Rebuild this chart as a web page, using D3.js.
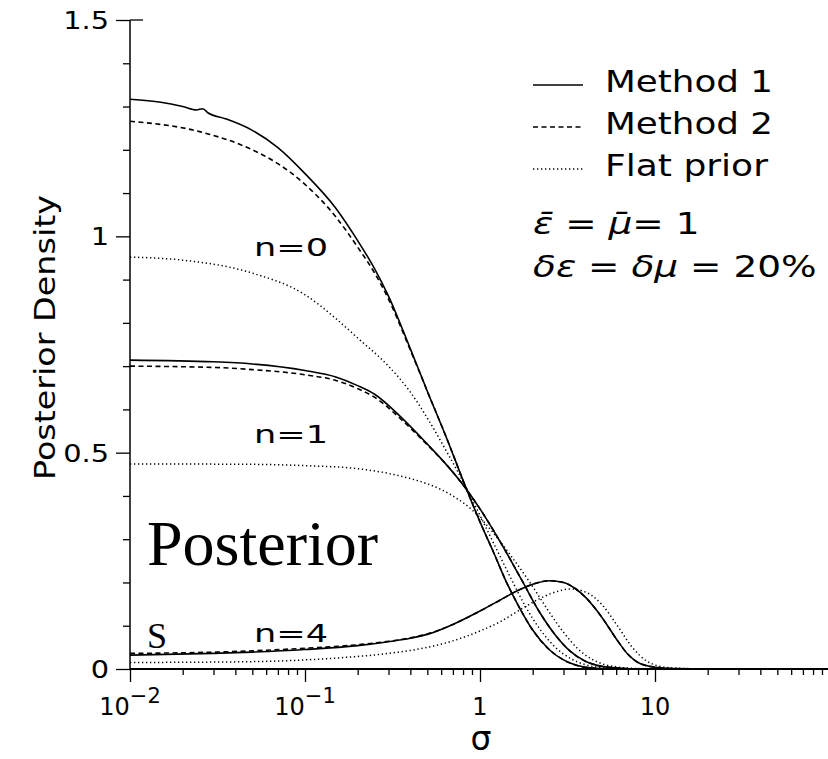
<!DOCTYPE html>
<html>
<head>
<meta charset="utf-8">
<script src="https://cdn.jsdelivr.net/npm/d3@7"></script>
<style>
  body { margin: 0; background: #fff; }
  svg { display: block; }
</style>
</head>
<body>
<div id="chart"></div>
<script>
// values: [sigma, density]
var n0_method1 = [[0.01,1.317],[0.015,1.31],[0.02,1.30],[0.024,1.292],[0.026,1.295],[0.028,1.285],[0.035,1.272],[0.05,1.245],[0.07,1.205],[0.1,1.145],[0.15,1.065],[0.2,0.99],[0.25,0.925],[0.3,0.862],[0.4,0.74],[0.5,0.642],[0.65,0.53],[0.82,0.425],[1.0,0.34],[1.2,0.268],[1.4,0.205],[1.7,0.138],[2.0,0.09],[2.5,0.044],[3.0,0.021],[3.6,0.008],[4.4,0.002],[6,0],[100,0]];
var n0_method2 = [[0.01,1.266],[0.025,1.242],[0.05,1.20],[0.07,1.168],[0.1,1.12],[0.15,1.045],[0.2,0.975],[0.25,0.915],[0.3,0.855],[0.4,0.737],[0.5,0.642],[0.65,0.53],[0.82,0.425],[1.0,0.34],[1.2,0.268],[1.4,0.205],[1.7,0.138],[2.0,0.09],[2.5,0.044],[3.0,0.021],[3.6,0.008],[4.4,0.002],[6,0],[100,0]];
var n0_flat = [[0.01,0.952],[0.02,0.945],[0.05,0.915],[0.1,0.865],[0.15,0.81],[0.2,0.765],[0.3,0.70],[0.4,0.64],[0.5,0.58],[0.65,0.50],[0.82,0.425],[1.0,0.355],[1.25,0.275],[1.5,0.21],[1.8,0.148],[2.2,0.092],[2.7,0.05],[3.3,0.024],[4.0,0.01],[5.0,0.003],[7,0],[100,0]];

var n1_method1 = [[0.01,0.714],[0.03,0.71],[0.05,0.705],[0.1,0.69],[0.15,0.675],[0.2,0.655],[0.25,0.635],[0.35,0.584],[0.5,0.52],[0.65,0.47],[0.82,0.42],[1.0,0.37],[1.3,0.295],[1.73,0.206],[2.2,0.13],[2.7,0.078],[3.3,0.04],[4.0,0.018],[5.0,0.006],[6.3,0.002],[8,0],[100,0]];
var n1_method2 = [[0.01,0.70],[0.03,0.697],[0.05,0.692],[0.1,0.68],[0.15,0.667],[0.2,0.648],[0.25,0.628],[0.35,0.579],[0.5,0.518],[0.65,0.47],[0.82,0.42],[1.0,0.37],[1.3,0.295],[1.73,0.206],[2.2,0.13],[2.7,0.078],[3.3,0.04],[4.0,0.018],[5.0,0.006],[6.3,0.002],[8,0],[100,0]];
var n1_flat = [[0.01,0.474],[0.05,0.473],[0.1,0.47],[0.2,0.463],[0.3,0.452],[0.4,0.44],[0.5,0.428],[0.7,0.40],[0.9,0.368],[1.2,0.313],[1.5,0.262],[1.93,0.2],[2.5,0.13],[3.0,0.085],[3.6,0.048],[4.3,0.024],[5.0,0.012],[6.0,0.005],[8,0.001],[10,0],[100,0]];

var n4_method1 = [[0.01,0.032],[0.03,0.036],[0.05,0.039],[0.1,0.045],[0.2,0.054],[0.3,0.063],[0.4,0.071],[0.5,0.08],[0.7,0.103],[1.0,0.134],[1.3,0.159],[1.6,0.179],[2.0,0.196],[2.5,0.204],[3.0,0.2],[3.5,0.186],[4.0,0.166],[5.0,0.118],[6.0,0.07],[7.0,0.034],[8,0.015],[10,0.004],[12.5,0.001],[20,0],[100,0]];
var n4_method2 = [[0.01,0.036],[0.03,0.039],[0.05,0.042],[0.1,0.048],[0.2,0.056],[0.3,0.064],[0.4,0.072],[0.5,0.081],[0.7,0.103],[1.0,0.134],[1.3,0.159],[1.6,0.179],[2.0,0.196],[2.5,0.204],[3.0,0.2],[3.5,0.186],[4.0,0.166],[5.0,0.118],[6.0,0.07],[7.0,0.034],[8,0.015],[10,0.004],[12.5,0.001],[20,0],[100,0]];
var n4_flat = [[0.01,0.015],[0.05,0.017],[0.1,0.021],[0.2,0.029],[0.3,0.036],[0.5,0.05],[0.7,0.065],[1.0,0.088],[1.3,0.109],[1.68,0.136],[2.2,0.163],[2.8,0.18],[3.3,0.185],[4.0,0.178],[5.0,0.148],[6.0,0.104],[7.5,0.048],[9,0.018],[12,0.003],[17.7,0.0005],[25,0],[100,0]];

var xMajor = [0.01, 0.1, 1, 10];
var xMajorLabels = [["10","\u22122"],["10","\u22121"],["1",""],["10",""]];
var yMajor = [0, 0.5, 1, 1.5];
var yMajorLabels = ["0", "0.5", "1", "1.5"];
var legendLabels = ["Method 1", "Method 2", "Flat prior"];
var curveLabels = ["n=0", "n=1", "n=4"];

var W = 828, H = 759;
var svg = d3.select("#chart").append("svg")
    .attr("width", W).attr("height", H);

var x = d3.scaleLog().domain([0.01, 100]).range([130, 830]);
var y = d3.scaleLinear().domain([0, 1.5]).range([669, 20]);

var sans = "DejaVu Sans";

// minor ticks
var xMinor = [];
[0.01, 0.1, 1, 10].forEach(function(d) {
  for (var k = 2; k <= 9; k++) xMinor.push(d * k);
});
var yMinor = d3.range(0, 1.51, 0.1).filter(function(v) {
  return Math.abs(v * 2 - Math.round(v * 2)) > 1e-6;
});

var gx = svg.append("g").attr("transform", "translate(0,669)");
gx.call(d3.axisBottom(x).tickValues(xMinor).tickSize(6).tickFormat(""));
gx.append("g").call(d3.axisBottom(x).tickValues(xMajor).tickSize(13).tickFormat(""));
gx.selectAll("path.domain").attr("stroke-width", 0);
gx.selectAll("line").attr("stroke", "#000").attr("stroke-width", 1.3);
gx.append("line").attr("x1", 130).attr("x2", 828).attr("y1", 0).attr("y2", 0)
  .attr("stroke", "#000").attr("stroke-width", 2.2);

var gy = svg.append("g").attr("transform", "translate(130,0)");
gy.call(d3.axisLeft(y).tickValues(yMinor).tickSize(7).tickFormat(""));
gy.append("g").call(d3.axisLeft(y).tickValues(yMajor).tickSize(14).tickFormat(""));
gy.selectAll("path.domain").attr("stroke-width", 0);
gy.selectAll("line").attr("stroke", "#000").attr("stroke-width", 1.3);
gy.append("line").attr("x1", 0).attr("x2", 0).attr("y1", y(1.5)).attr("y2", 669)
  .attr("stroke", "#000").attr("stroke-width", 1.5);
gy.append("line").attr("x1", 0).attr("x2", 13).attr("y1", y(1.5)).attr("y2", y(1.5))
  .attr("stroke", "#000").attr("stroke-width", 1.3);

// x tick labels
xMajor.forEach(function(v, i) {
  var t = svg.append("text")
    .attr("x", x(v)).attr("y", 715)
    .attr("text-anchor", "middle")
    .attr("font-family", sans).attr("font-size", 24);
  t.append("tspan").text(xMajorLabels[i][0]);
  if (xMajorLabels[i][1]) {
    t.append("tspan").attr("dy", -12).attr("font-size", 21).text(xMajorLabels[i][1]);
  }
});

// y tick labels
yMajor.forEach(function(v, i) {
  svg.append("text")
    .attr("transform", "translate(109," + (y(v) + 9) + ") scale(1.2,1)")
    .attr("text-anchor", "end")
    .attr("font-family", sans).attr("font-size", 24)
    .text(yMajorLabels[i]);
});

// axis titles
svg.append("text")
  .attr("transform", "translate(55,338) rotate(-90)")
  .attr("x", -142)
  .attr("font-family", sans).attr("font-size", 29)
  .attr("textLength", 285).attr("lengthAdjust", "spacingAndGlyphs")
  .text("Posterior Density");

svg.append("text")
  .attr("x", 481).attr("y", 750)
  .attr("text-anchor", "middle")
  .attr("font-family", sans).attr("font-size", 33)
  .text("\u03c3");

// curves
var line = d3.line()
  .x(function(d) { return x(d[0]); })
  .y(function(d) { return y(d[1]); })
  .curve(d3.curveMonotoneX);

var styles = {
  solid:  { dash: null, width: 1.6 },
  dashed: { dash: "5,3.5", width: 1.6 },
  dotted: { dash: "1.3,2.7", width: 1.5 }
};
var series = [
  [n0_method1, "solid"], [n0_method2, "dashed"], [n0_flat, "dotted"],
  [n1_method1, "solid"], [n1_method2, "dashed"], [n1_flat, "dotted"],
  [n4_method1, "solid"], [n4_method2, "dashed"], [n4_flat, "dotted"]
];
var plot = svg.append("g");
series.forEach(function(s) {
  var st = styles[s[1]];
  plot.append("path")
    .datum(s[0])
    .attr("fill", "none")
    .attr("stroke", "#000")
    .attr("stroke-width", st.width)
    .attr("stroke-dasharray", st.dash)
    .attr("d", line);
});

// curve labels
var labelY = [256, 443, 642];
curveLabels.forEach(function(c, i) {
  svg.append("text")
    .attr("x", 254).attr("y", labelY[i])
    .attr("font-family", sans).attr("font-size", 25)
    .attr("textLength", 74).attr("lengthAdjust", "spacingAndGlyphs")
    .text(c);
});

// legend
var legY = [92, 134, 176];
var legStyle = ["solid", "dashed", "dotted"];
legendLabels.forEach(function(lab, i) {
  var st = styles[legStyle[i]];
  svg.append("line")
    .attr("x1", 533).attr("x2", 583)
    .attr("y1", legY[i] - 7).attr("y2", legY[i] - 7)
    .attr("stroke", "#000").attr("stroke-width", 1.3)
    .attr("stroke-dasharray", st.dash);
  svg.append("text")
    .attr("x", 605).attr("y", legY[i])
    .attr("font-family", sans).attr("font-size", 30)
    .attr("textLength", i == 2 ? 163 : 168).attr("lengthAdjust", "spacingAndGlyphs")
    .text(lab);
});

// parameter annotation
var a1 = svg.append("text")
  .attr("transform", "translate(533,234) scale(1.25,1)")
  .attr("font-family", sans).attr("font-size", 30);
a1.append("tspan").attr("font-style", "italic").text("\u03b5\u0304");
a1.append("tspan").text(" = ");
a1.append("tspan").attr("font-style", "italic").text("\u03bc\u0304");
a1.append("tspan").text("= 1");

var a2 = svg.append("text")
  .attr("transform", "translate(533,277) scale(1.25,1)")
  .attr("font-family", sans).attr("font-size", 30);
a2.append("tspan").attr("font-style", "italic").text("\u03b4\u03b5");
a2.append("tspan").text(" = ");
a2.append("tspan").attr("font-style", "italic").text("\u03b4\u03bc");
a2.append("tspan").text(" = 20%");

// big serif label
svg.append("text")
  .attr("x", 147).attr("y", 565)
  .attr("font-family", "Liberation Serif").attr("font-size", 64)
  .text("Posterior");
svg.append("text")
  .attr("x", 147).attr("y", 648)
  .attr("font-family", "Liberation Serif").attr("font-size", 36)
  .text("S");
</script>
</body>
</html>
